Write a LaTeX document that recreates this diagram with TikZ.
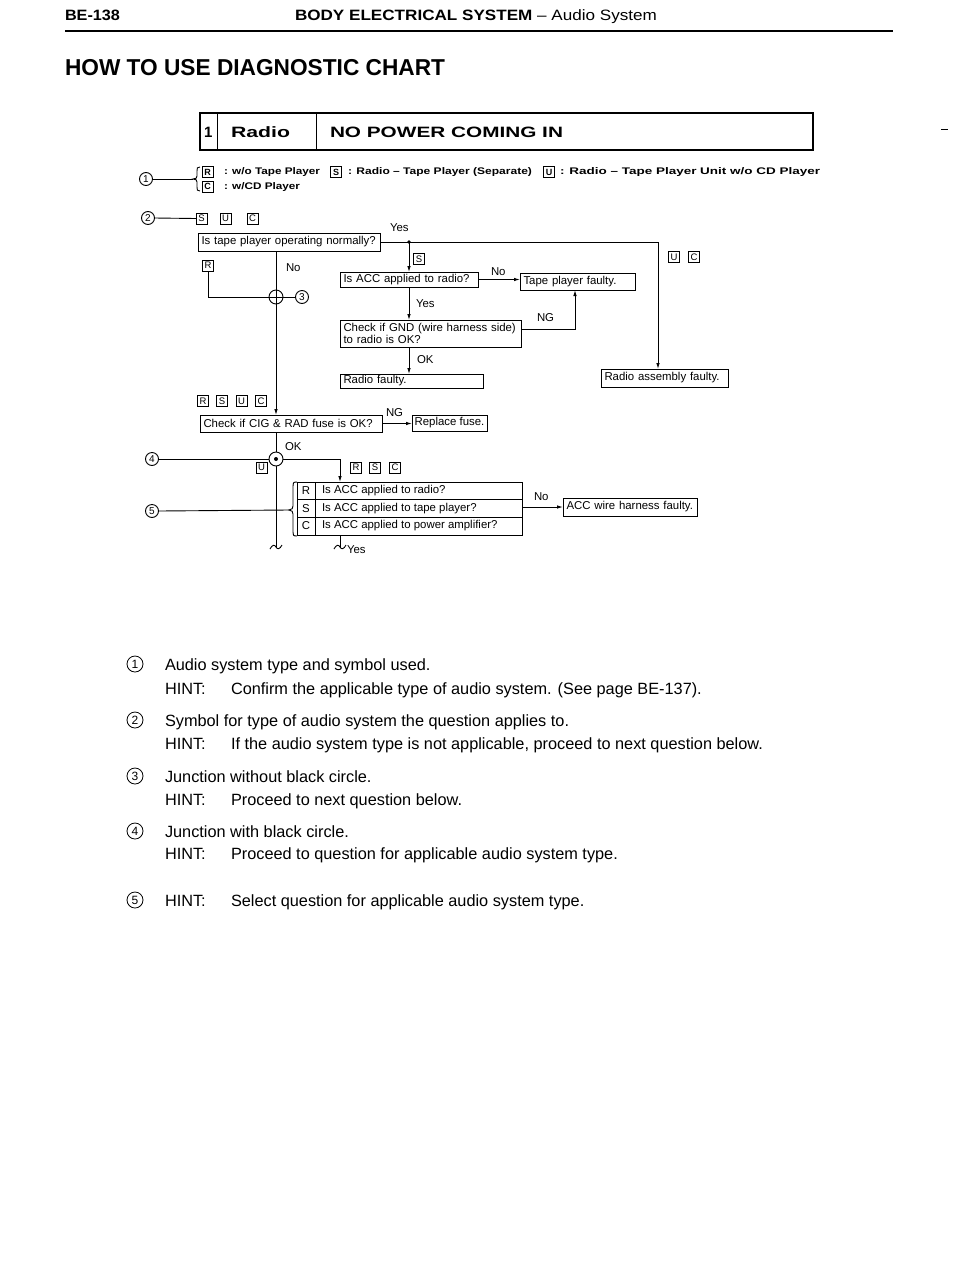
\documentclass[tikz,border=0pt]{standalone}
\usepackage{fontspec}
\setmainfont{Liberation Sans}
\usepackage{graphicx}
\usetikzlibrary{arrows.meta}
\newcommand\fw[2]{\resizebox{#1pt}{\height}{#2}}
\begin{document}
\begin{tikzpicture}[x=1pt,y=-1pt,
  every node/.style={inner sep=0pt, outer sep=0pt},
  txt/.style={anchor=base west},
  cfont/.style={font=\fontsize{11.4}{12.5}\selectfont},
  cbox/.style={draw, line width=1pt, anchor=north west, inner xsep=3.5pt, align=left, cfont},
  lbox/.style={draw, line width=0.9pt, minimum width=11pt, minimum height=11pt, font=\fontsize{9}{9}\selectfont\bfseries},
  sbox/.style={draw, line width=0.9pt, minimum width=11pt, minimum height=11pt, font=\fontsize{9.5}{9}\selectfont},
  circnum/.style={draw, circle, line width=0.9pt, minimum size=13pt, font=\fontsize{10}{10}\selectfont},
  bignum/.style={draw, circle, line width=0.8pt, minimum size=16pt, font=\fontsize{12}{12}\selectfont},
  conn/.style={line width=0.9pt},
  arr/.style={conn, -{Latex[length=6pt,width=3.5pt]}},
  lbl/.style={anchor=west, cfont},
  note/.style={anchor=base west, font=\fontsize{16.3}{19}\selectfont},
  legend/.style={anchor=west, font=\fontsize{9.6}{10}\selectfont\bfseries},
]
\fill[white] (0,0) rectangle (960,1280);
\useasboundingbox (0,0) rectangle (960,1280);

% ---------- header ----------
\node[txt] (pg) at (65,20) {\fontsize{15}{15}\selectfont\fw{55}{\bfseries BE-138}};
\node[txt] (hd) at (295,20) {\fontsize{15}{15}\selectfont\fw{362}{\bfseries BODY ELECTRICAL SYSTEM\mdseries{} -- Audio System}};
\draw[line width=2.2pt] (65,31) -- (893,31);
\node[txt] (ttl) at (65,75.5) {\fontsize{23}{23}\selectfont\fw{380}{\bfseries HOW TO USE DIAGNOSTIC CHART}};

% ---------- title box ----------
\node[draw, line width=1.2pt, anchor=north west, minimum width=613pt, minimum height=37pt] (tb) at (200,113) {};
\draw[line width=1pt] (217,113) -- (217,150);
\draw[line width=1pt] (316,113) -- (316,150);
\node[txt] (tb1) at (204,137) {\fontsize{15}{15}\selectfont\bfseries 1};
\node[txt] (tb2) at (231,137) {\fontsize{15}{15}\selectfont\fw{59}{\bfseries Radio}};
\node[txt] (tb3) at (330,137) {\fontsize{15}{15}\selectfont\fw{233}{\bfseries NO POWER COMING IN}};
\draw[line width=0.9pt] (941,129) -- (948,129);

% ---------- legend (1) ----------
\node[circnum] (c1) at (146,179) {1};
\coordinate (br1) at (193,179);
\draw[conn] (c1.east) -- (br1);
\draw[conn] (200,167) .. controls (197,167) and (197,168) .. (197,171) -- (197,176)
  .. controls (197,178) and (196,179) .. (br1)
  .. controls (196,179) and (197,180) .. (197,182) -- (197,187)
  .. controls (197,190) and (197,191) .. (200,191);
\node[lbox] (lR) at (207.5,172) {R};
\node[legend] (tR) at (224,172.5) {\fw{96}{: w/o Tape Player}};
\node[lbox] (lS) at (336,172) {S};
\node[legend] (tS) at (348,172.5) {\fw{184}{: Radio -- Tape Player (Separate)}};
\node[lbox] (lU) at (549,172) {U};
\node[legend] (tU) at (560,172.5) {\fw{260}{: Radio -- Tape Player Unit w/o CD Player}};
\node[lbox] (lC) at (207.5,186.5) {C};
\node[legend] (tC) at (224,187.5) {\fw{76}{: w/CD Player}};

% ---------- legend (2) ----------
\node[circnum] (c2) at (148,218) {2};
\node[sbox] (s2S) at (201.5,218.5) {S};
\node[sbox] (s2U) at (225.5,218.5) {U};
\node[sbox] (s2C) at (252.5,218.5) {C};
\draw[conn] (c2.east) -- (s2S.west);

% ---------- chart ----------
\coordinate (vx) at (276,0);
\node[cbox, minimum height=18pt, text width=175pt] (qTape) at (198,233) {Is tape player operating normally?};
\coordinate (jYes) at (409,242);
\node[lbl] (yes1) at (390,228) {Yes};
\node[sbox] (bS1) at (419,259) {S};
\node[sbox] (bU1) at (674,257) {U};
\node[sbox] (bC1) at (694,257) {C};

\node[cbox, minimum height=15pt, text width=131pt] (qACC) at (340,272) {Is ACC applied to radio?};
\node[cbox, minimum height=17pt, text width=108pt] (tTape) at (520,273) {Tape player faulty.};
\node[cbox, minimum height=27pt, text width=174pt] (qGND) at (340,320) {Check if GND (wire harness side)\\to radio is OK?};
\node[cbox, minimum height=14pt, text width=136pt] (fRadio) at (340,374) {Radio faulty.};
\node[cbox, minimum height=18pt, text width=120pt] (fAsm) at (601,369) {Radio assembly faulty.};

\draw[conn] (qTape.east |- jYes) -- (jYes);
\fill (jYes) circle (1.8pt);
\draw[arr] (jYes) -| ([xshift=57pt]fAsm.north west);
\draw[arr] (jYes) -- (qACC.north -| jYes);
\draw[arr] (qACC.east) -- (tTape.west |- qACC.east);
\node[lbl] (no1) at (491,272) {No};
\draw[arr] (qACC.south -| jYes) -- (qGND.north -| jYes);
\node[lbl] (yes2) at (416,304) {Yes};
\coordinate (ngc) at (575,329);
\draw[arr] (qGND.east |- ngc) -- (ngc) -- (tTape.south -| ngc);
\node[lbl] (ng1) at (537,318) {NG};
\draw[arr] (qGND.south -| jYes) -- (fRadio.north -| jYes);
\node[lbl] (ok1) at (417,360) {OK};

% left branch
\node[sbox] (bR1) at (208,265.5) {R};
\node[lbl] (no2) at (286,268) {No};
\coordinate (j3) at (276,297);
\draw[conn] (bR1.south) |- (j3);
\node[circnum] (c3) at (302,297) {3};
\draw[conn] (j3) -- (c3.west);

\node[sbox] (bR2) at (203,401) {R};
\node[sbox] (bS2) at (222,401) {S};
\node[sbox] (bU2) at (241.5,401) {U};
\node[sbox] (bC2) at (261,401) {C};
\node[cbox, minimum height=17pt, text width=175pt] (qCIG) at (200,415) {Check if CIG \& RAD fuse is OK?};
\node[draw, line width=1pt, anchor=north west, minimum width=75pt, minimum height=16pt, cfont] (fFuse) at (412,415) {Replace fuse.};
\draw[arr] (qTape.south -| vx) -- (qCIG.north -| vx);
\draw[conn] (j3) circle (7pt);
\draw[arr] (qCIG.east) -- (fFuse.west |- qCIG.east);
\node[lbl] (ng2) at (386,413) {NG};

% junction with black circle
\coordinate (j4) at (276,459);
\coordinate (vend) at (276,547);
\draw[conn] (qCIG.south -| vx) -- (vend);
\draw[conn] (vend) .. controls (274.5,544) and (272,545) .. (270,549);
\draw[conn] (vend) .. controls (277.5,550) and (280,549) .. (282,545);
\node[lbl] (ok2) at (285,447) {OK};
\node[circnum] (c4) at (152,459) {4};
\draw[conn] (c4.east) -- (j4);
\node[sbox] (bU3) at (261.5,467.5) {U};
\node[sbox] (bR3) at (356,467.5) {R};
\node[sbox] (bS3) at (375,467.5) {S};
\node[sbox] (bC3) at (395,467.5) {C};

% table
\node[draw, line width=1pt, anchor=north west, minimum width=225pt, minimum height=53pt] (tbl) at (297,482) {};
\draw[line width=0.9pt] (297,499.7) -- (522,499.7);
\draw[line width=0.9pt] (297,517.3) -- (522,517.3);
\draw[line width=0.9pt] (315,482) -- (315,535);
\node[cfont] (tR1) at (306,491) {R};
\node[cfont] (tS1) at (306,508.5) {S};
\node[cfont] (tC1) at (306,526) {C};
\node[lbl] (tq1) at (322,491) {Is ACC applied to radio?};
\node[lbl] (tq2) at (322,508.5) {Is ACC applied to tape player?};
\node[lbl] (tq3) at (322,526) {Is ACC applied to power amplifier?};
\coordinate (tx) at (340,0);
\draw[arr] (j4) -| (tbl.north -| tx);
\draw[conn, fill=white] (j4) circle (7pt);
\fill (j4) circle (2pt);

\coordinate (br5) at (289,510);
\draw[conn] (297,482) .. controls (293,482) and (293,483) .. (293,486) -- (293,506)
  .. controls (293,508) and (292,510) .. (br5)
  .. controls (292,510) and (293,512) .. (293,514) -- (293,532)
  .. controls (293,535) and (293,536) .. (297,536);
\node[circnum] (c5) at (152,511) {5};
\draw[conn] (c5.east) -- (br5);

\node[cbox, minimum height=18pt, text width=127pt] (fACC) at (563,498) {ACC wire harness faulty.};
\draw[arr] (tbl.east |- fACC.west) -- (fACC.west);
\node[lbl] (no3) at (534,497) {No};

\coordinate (yend) at (340,547);
\draw[conn] (tbl.south -| tx) -- (yend);
\draw[conn] (yend) .. controls (338.5,544) and (336,545) .. (334,549);
\draw[conn] (yend) .. controls (341.5,550) and (344,549) .. (346,545);
\node[lbl] (yes3) at (347,550) {Yes};

% ---------- notes ----------
\node[bignum] (n1) at (135,664) {1};
\node[note] (n1a) at (165,670) {Audio system type and symbol used.};
\node[note] (n1b) at (165,694) {HINT:};
\node[note] (n1c) at (231,694) {Confirm the applicable type of audio system. (See page BE-137).};
\node[bignum] (n2) at (135,720) {2};
\node[note] (n2a) at (165,726) {Symbol for type of audio system the question applies to.};
\node[note] (n2b) at (165,749) {HINT:};
\node[note] (n2c) at (231,749) {If the audio system type is not applicable, proceed to next question below.};
\node[bignum] (n3) at (135,776) {3};
\node[note] (n3a) at (165,782) {Junction without black circle.};
\node[note] (n3b) at (165,805) {HINT:};
\node[note] (n3c) at (231,805) {Proceed to next question below.};
\node[bignum] (n4) at (135,831) {4};
\node[note] (n4a) at (165,837) {Junction with black circle.};
\node[note] (n4b) at (165,859) {HINT:};
\node[note] (n4c) at (231,859) {Proceed to question for applicable audio system type.};
\node[bignum] (n5) at (135,900) {5};
\node[note] (n5b) at (165,906) {HINT:};
\node[note] (n5c) at (231,906) {Select question for applicable audio system type.};
\end{tikzpicture}
\end{document}
